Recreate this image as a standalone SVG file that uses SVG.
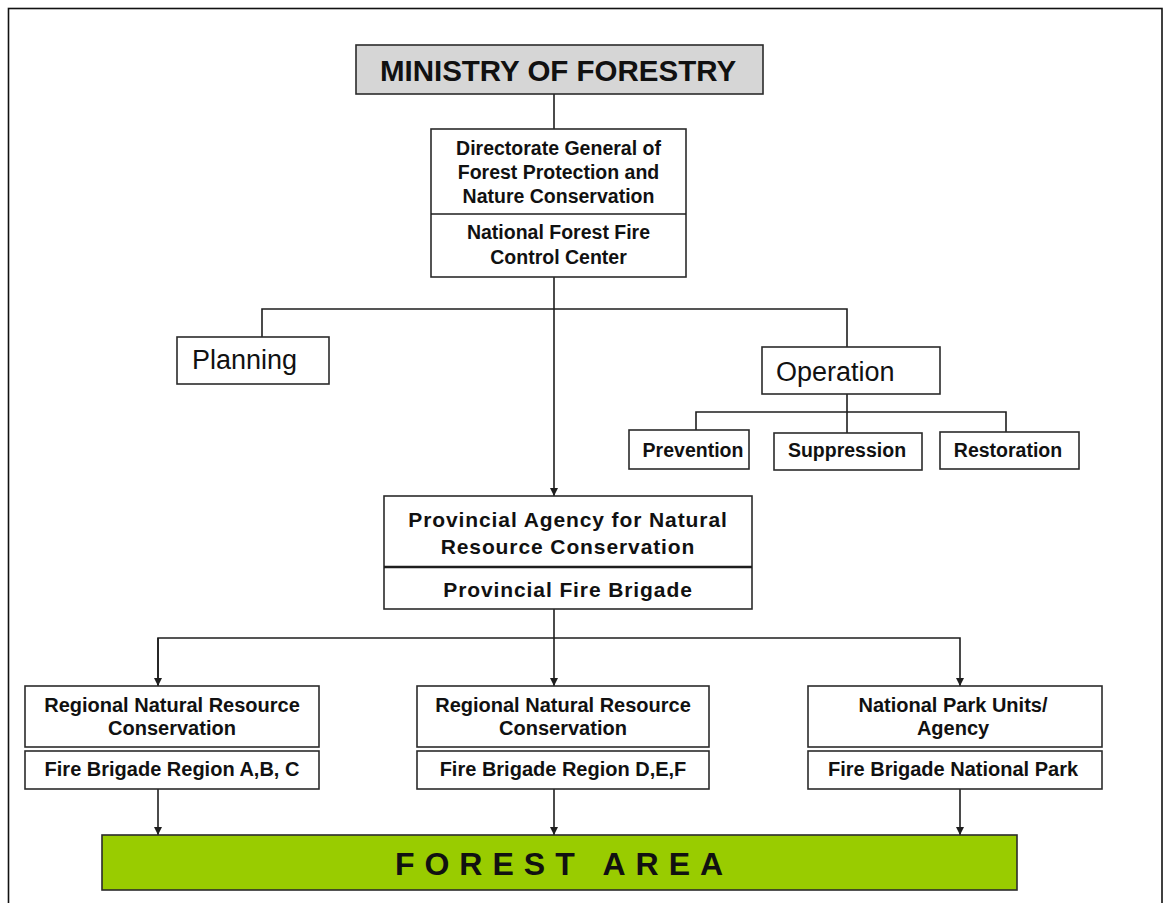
<svg xmlns="http://www.w3.org/2000/svg" width="1167" height="903" viewBox="0 0 1167 903">
  <style>
    .box { fill: #ffffff; stroke: #2b2b2b; stroke-width: 1.6; }
    .ministry { fill: #d6d6d6; stroke: #2b2b2b; stroke-width: 1.6; }
    .forest { fill: #99cc00; stroke: #2b2b2b; stroke-width: 1.6; }
    .line { fill: none; stroke: #1e1e1e; stroke-width: 1.6; }
    .t { font-family: "Liberation Sans", Arial, sans-serif; font-weight: bold; fill: #111; text-anchor: middle; }
    .t19 { font-size: 19.5px; }
    .t20 { font-size: 20px; }
    .big { font-family: "Liberation Sans", Arial, sans-serif; font-size: 27px; fill: #111; }
  </style>
  <defs>
    <marker id="arrow" viewBox="0 0 10 10" refX="10" refY="5" markerWidth="10" markerHeight="8" markerUnits="userSpaceOnUse" orient="auto">
      <path d="M0,0 L10,5 L0,10 z" fill="#1e1e1e"/>
    </marker>
  </defs>

  <rect x="0" y="0" width="1167" height="903" fill="#ffffff"/>
  <!-- outer frame -->
  <rect x="8.5" y="8.5" width="1153.5" height="910" fill="none" stroke="#111" stroke-width="1.6"/>

  <!-- connectors -->
  <g id="connectors">
    <line class="line" x1="554" y1="94" x2="554" y2="129"/>
    <line class="line" x1="554" y1="277" x2="554" y2="496" marker-end="url(#arrow)"/>
    <polyline class="line" points="262,337 262,309 847,309 847,347"/>
    <line class="line" x1="847" y1="394" x2="847" y2="412"/>
    <polyline class="line" points="696,430 696,412 1006,412 1006,432"/>
    <line class="line" x1="847" y1="412" x2="847" y2="433"/>
    <line class="line" x1="554" y1="609" x2="554" y2="686" marker-end="url(#arrow)"/>
    <polyline class="line" points="158,686 158,638 960,638 960,686" marker-end="url(#arrow)"/>
    <line class="line" x1="158" y1="638" x2="158" y2="686" marker-end="url(#arrow)"/>
    <line class="line" x1="158" y1="789" x2="158" y2="835" marker-end="url(#arrow)"/>
    <line class="line" x1="554" y1="789" x2="554" y2="835" marker-end="url(#arrow)"/>
    <line class="line" x1="960" y1="789" x2="960" y2="835" marker-end="url(#arrow)"/>
  </g>

  <g id="ministry">
    <rect class="ministry" x="356" y="45" width="407" height="49"/>
    <text class="t" x="558" y="81" font-size="29.5">MINISTRY OF FORESTRY</text>
  </g>

  <g id="directorate">
    <rect class="box" x="431" y="129" width="255" height="148"/>
    <line class="line" x1="431" y1="214" x2="686" y2="214"/>
    <text class="t t19" x="558.5" y="155">Directorate General of</text>
    <text class="t t19" x="558.5" y="179">Forest Protection and</text>
    <text class="t t19" x="558.5" y="203">Nature Conservation</text>
    <text class="t t19" x="558.5" y="239">National Forest Fire</text>
    <text class="t t19" x="558.5" y="264">Control Center</text>
  </g>

  <g id="planning">
    <rect class="box" x="177" y="337" width="152" height="47"/>
    <text class="big" x="192" y="369">Planning</text>
  </g>

  <g id="operation">
    <rect class="box" x="762" y="347" width="178" height="47"/>
    <text class="big" x="776" y="381">Operation</text>
  </g>

  <g id="prevention">
    <rect class="box" x="629" y="430" width="120" height="39"/>
    <text class="t t19" x="693" y="457">Prevention</text>
  </g>

  <g id="suppression">
    <rect class="box" x="774" y="433" width="148" height="37"/>
    <text class="t t19" x="847" y="457">Suppression</text>
  </g>

  <g id="restoration">
    <rect class="box" x="940" y="432" width="139" height="37"/>
    <text class="t t19" x="1008" y="457">Restoration</text>
  </g>

  <g id="provincial">
    <rect class="box" x="384" y="496" width="368" height="113"/>
    <line x1="384" y1="567" x2="752" y2="567" stroke="#1e1e1e" stroke-width="2.6"/>
    <text class="t" x="568" y="527" font-size="21" letter-spacing="0.9">Provincial Agency for Natural</text>
    <text class="t" x="568" y="554" font-size="21" letter-spacing="0.9">Resource Conservation</text>
    <text class="t" x="568" y="597" font-size="21" letter-spacing="0.9">Provincial Fire Brigade</text>
  </g>

  <g id="regional-abc">
    <rect class="box" x="25" y="686" width="294" height="61"/>
    <rect class="box" x="25" y="751" width="294" height="38"/>
    <text class="t t20" x="172" y="712">Regional Natural Resource</text>
    <text class="t t20" x="172" y="735">Conservation</text>
    <text class="t t20" x="172" y="776">Fire Brigade Region A,B, C</text>
  </g>

  <g id="regional-def">
    <rect class="box" x="417" y="686" width="292" height="61"/>
    <rect class="box" x="417" y="751" width="292" height="38"/>
    <text class="t t20" x="563" y="712">Regional Natural Resource</text>
    <text class="t t20" x="563" y="735">Conservation</text>
    <text class="t t20" x="563" y="776">Fire Brigade Region D,E,F</text>
  </g>

  <g id="national-park">
    <rect class="box" x="808" y="686" width="294" height="61"/>
    <rect class="box" x="808" y="751" width="294" height="38"/>
    <text class="t t20" x="953" y="712">National Park Units/</text>
    <text class="t t20" x="953" y="735">Agency</text>
    <text class="t t20" x="953" y="776">Fire Brigade National Park</text>
  </g>

  <g id="forest-area">
    <rect class="forest" x="102" y="835" width="915" height="55"/>
    <text class="t" x="564" y="875" font-size="32" letter-spacing="10">FOREST AREA</text>
  </g>
</svg>
